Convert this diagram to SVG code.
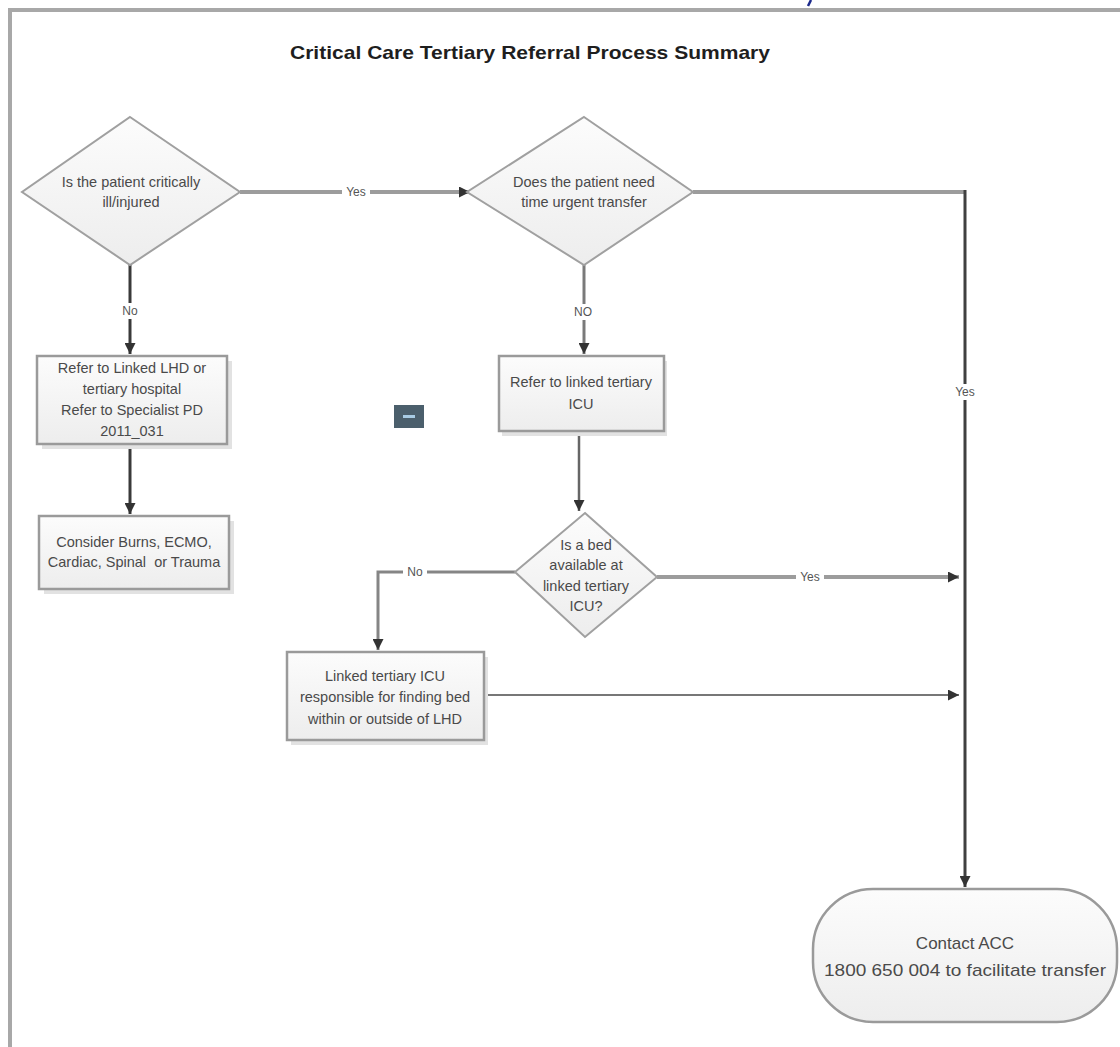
<svg xmlns="http://www.w3.org/2000/svg" width="1120" height="1047" viewBox="0 0 1120 1047">
  <style>
    .lbl { font-family: "Liberation Sans", Arial, sans-serif; font-size: 14.5px; fill: #4a4a4a; text-anchor: middle; dominant-baseline: central; }
    .title { font-family: "Liberation Sans", Arial, sans-serif; font-size: 19px; font-weight: bold; fill: #1e1e1e; text-anchor: middle; }
    .shape { fill: url(#fillGrad); stroke: #9a9a9a; stroke-width: 2.5; }
    .diamond { fill: url(#fillGrad); stroke: #a0a0a0; stroke-width: 2; }
    .shadow { fill: #e2e2e2; }
    .edge { fill: none; }
    .tag { fill: #ffffff; }
    .tagtext { font-family: "Liberation Sans", Arial, sans-serif; font-size: 12px; fill: #555; text-anchor: middle; dominant-baseline: central; }
  </style>
  <defs>
    <linearGradient id="fillGrad" x1="0" y1="0" x2="0" y2="1">
      <stop offset="0" stop-color="#fcfcfc"/>
      <stop offset="1" stop-color="#ededed"/>
    </linearGradient>
    <marker id="arrow" viewBox="0 0 10 10" refX="10" refY="5" markerWidth="11" markerHeight="11" markerUnits="userSpaceOnUse" orient="auto">
      <path d="M0,0 L10,5 L0,10 Z" fill="#333"/>
    </marker>
  </defs>

  <rect width="1120" height="1047" fill="#ffffff"/>

  <!-- page frame -->
  <g id="frame">
    <path d="M10,1047 V10 H1120" fill="none" stroke="#a8a8a8" stroke-width="4"/>
    <path d="M811,0 L808,6" stroke="#1c2a8c" stroke-width="2.5"/>
  </g>

  <text id="title" class="title" x="530" y="59" textLength="480" lengthAdjust="spacingAndGlyphs">Critical Care Tertiary Referral Process Summary</text>

  <!-- connectors -->
  <g id="connectors">
    <line class="edge" x1="240" y1="192" x2="470" y2="192" stroke="#9c9c9c" stroke-width="4" marker-end="url(#arrow)"/>
    <line class="edge" x1="130" y1="265" x2="130" y2="354" stroke="#3a3a3a" stroke-width="3" marker-end="url(#arrow)"/>
    <line class="edge" x1="130" y1="444" x2="130" y2="514" stroke="#3a3a3a" stroke-width="3" marker-end="url(#arrow)"/>
    <line class="edge" x1="584" y1="265" x2="584" y2="354" stroke="#7a7a7a" stroke-width="3" marker-end="url(#arrow)"/>
    <line class="edge" x1="579" y1="433" x2="579" y2="511" stroke="#666" stroke-width="2.5" marker-end="url(#arrow)"/>
    <path class="edge" d="M693,192 H965" stroke="#9c9c9c" stroke-width="4"/>
    <path class="edge" d="M965,190 V887" stroke="#404040" stroke-width="3" marker-end="url(#arrow)"/>
    <path class="edge" d="M515,572 H378 V650" stroke="#858585" stroke-width="3" marker-end="url(#arrow)"/>
    <line class="edge" x1="657" y1="577" x2="959" y2="577" stroke="#9c9c9c" stroke-width="4" marker-end="url(#arrow)"/>
    <line class="edge" x1="484" y1="695" x2="959" y2="695" stroke="#777" stroke-width="2" marker-end="url(#arrow)"/>

    <rect class="tag" x="342" y="184" width="28" height="16"/>
    <text class="tagtext" x="356" y="192">Yes</text>
    <rect class="tag" x="118" y="303" width="24" height="16"/>
    <text class="tagtext" x="130" y="311">No</text>
    <rect class="tag" x="570" y="304" width="27" height="16"/>
    <text class="tagtext" x="583" y="312">NO</text>
    <rect class="tag" x="951" y="384" width="28" height="16"/>
    <text class="tagtext" x="965" y="392">Yes</text>
    <rect class="tag" x="403" y="564" width="24" height="16"/>
    <text class="tagtext" x="415" y="572">No</text>
    <rect class="tag" x="796" y="569" width="28" height="16"/>
    <text class="tagtext" x="810" y="577">Yes</text>
  </g>

  <!-- decision: critically ill -->
  <g id="q-critical">
    <polygon class="diamond" points="130,117 240,192 130,265 22,192"/>
    <text class="lbl" x="131" y="182">Is the patient critically</text>
    <text class="lbl" x="131" y="202">ill/injured</text>
  </g>

  <!-- decision: time urgent transfer -->
  <g id="q-urgent">
    <polygon class="diamond" points="584,117 693,192 584,265 467,192"/>
    <text class="lbl" x="584" y="182">Does the patient need</text>
    <text class="lbl" x="584" y="202">time urgent transfer</text>
  </g>

  <!-- process: refer to linked LHD -->
  <g id="refer-lhd">
    <rect class="shadow" x="42" y="361" width="190" height="88"/>
    <rect class="shape" x="37" y="356" width="190" height="88"/>
    <text class="lbl" x="132" y="368">Refer to Linked LHD or</text>
    <text class="lbl" x="132" y="389">tertiary hospital</text>
    <text class="lbl" x="132" y="410">Refer to Specialist PD</text>
    <text class="lbl" x="132" y="431">2011_031</text>
  </g>

  <!-- process: consider specialist services -->
  <g id="consider">
    <rect class="shadow" x="44" y="521" width="190" height="73"/>
    <rect class="shape" x="39" y="516" width="190" height="73"/>
    <text class="lbl" x="134" y="542">Consider Burns, ECMO,</text>
    <text class="lbl" x="134" y="562" xml:space="preserve">Cardiac, Spinal  or Trauma</text>
  </g>

  <!-- collapse button -->
  <g id="collapse-btn">
    <rect x="394" y="405" width="30" height="23" fill="#4b5f6c"/>
    <rect x="403" y="415" width="12" height="3" fill="#a8cbe3"/>
  </g>

  <!-- process: refer to linked tertiary ICU -->
  <g id="refer-icu">
    <rect class="shadow" x="502" y="361" width="165" height="75"/>
    <rect class="shape" x="499" y="356" width="165" height="75"/>
    <text class="lbl" x="581" y="382">Refer to linked tertiary</text>
    <text class="lbl" x="581" y="404">ICU</text>
  </g>

  <!-- decision: bed available -->
  <g id="q-bed">
    <polygon class="diamond" points="585,513 657,577 585,637 515,572"/>
    <text class="lbl" x="586" y="545">Is a bed</text>
    <text class="lbl" x="586" y="565">available at</text>
    <text class="lbl" x="586" y="586">linked tertiary</text>
    <text class="lbl" x="586" y="606">ICU?</text>
  </g>

  <!-- process: linked ICU finds bed -->
  <g id="find-bed">
    <rect class="shadow" x="291" y="657" width="197" height="88"/>
    <rect class="shape" x="287" y="652" width="197" height="88"/>
    <text class="lbl" x="385" y="676">Linked tertiary ICU</text>
    <text class="lbl" x="385" y="697">responsible for finding bed</text>
    <text class="lbl" x="385" y="719">within or outside of LHD</text>
  </g>

  <!-- terminal: contact ACC -->
  <g id="contact-acc">
    <rect class="shape" x="813" y="889" width="304" height="133" rx="60" ry="60"/>
    <text class="lbl" x="965" y="943" style="font-size:17px">Contact ACC</text>
    <text class="lbl" x="965" y="970" style="font-size:17px" textLength="282" lengthAdjust="spacingAndGlyphs">1800 650 004 to facilitate transfer</text>
  </g>
</svg>
